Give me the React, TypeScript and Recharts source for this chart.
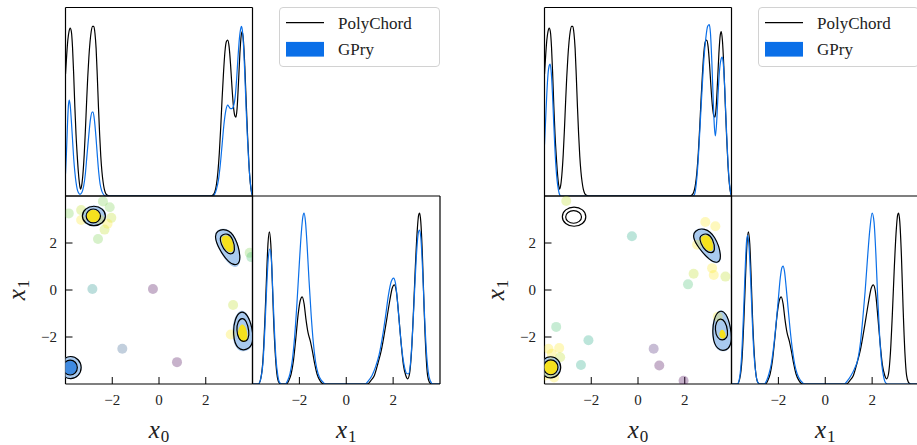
import React from 'react'
import { LineChart, Line, ScatterChart, Scatter, XAxis, YAxis, Legend } from 'recharts'

type Pt = [number, number]
type Sample = [number, number, number]

const TICKS = [-2, 0, 2]
const SERIES = ['PolyChord', 'GPry']

// 1D marginal of x0, PolyChord reference (same run in both corner plots)
const POLY_X0: Pt[] = [
  [-4.0, 0.71], [-3.95, 0.82], [-3.9, 0.91], [-3.85, 0.96], [-3.8, 0.98], [-3.75, 0.96], [-3.7, 0.87],
  [-3.65, 0.71], [-3.6, 0.52], [-3.55, 0.36], [-3.5, 0.24], [-3.45, 0.14], [-3.4, 0.07], [-3.36, 0.04],
  [-3.31, 0.06], [-3.26, 0.12], [-3.2, 0.24], [-3.15, 0.38], [-3.1, 0.54], [-3.05, 0.69], [-3.0, 0.81],
  [-2.95, 0.9], [-2.9, 0.96], [-2.84, 0.99], [-2.79, 0.99], [-2.74, 0.95], [-2.69, 0.86], [-2.64, 0.7],
  [-2.59, 0.52], [-2.54, 0.36], [-2.49, 0.23], [-2.44, 0.14], [-2.39, 0.08], [-2.34, 0.04], [-2.28, 0.015],
  [-2.2, 0.004], [-2.1, 0], [2.2, 0], [2.3, 0.005], [2.38, 0.02], [2.45, 0.06], [2.52, 0.14], [2.58, 0.25],
  [2.64, 0.4], [2.7, 0.57], [2.76, 0.72], [2.82, 0.84], [2.88, 0.9], [2.94, 0.91], [3.0, 0.87], [3.06, 0.77],
  [3.12, 0.64], [3.18, 0.53], [3.24, 0.47], [3.29, 0.46], [3.34, 0.51], [3.4, 0.66], [3.46, 0.83],
  [3.52, 0.94], [3.56, 0.96], [3.61, 0.91], [3.67, 0.76], [3.73, 0.55], [3.79, 0.35], [3.85, 0.18],
  [3.91, 0.07], [3.96, 0.02], [4.0, 0.005],
]

// 1D marginal of x0, GPry (left run)
const GPRY_X0_LEFT: Pt[] = [
  [-4.0, 0.13], [-3.96, 0.25], [-3.92, 0.4], [-3.88, 0.52], [-3.84, 0.56], [-3.8, 0.53], [-3.75, 0.44],
  [-3.7, 0.33], [-3.65, 0.22], [-3.6, 0.14], [-3.55, 0.08], [-3.5, 0.04], [-3.45, 0.02], [-3.38, 0.01],
  [-3.3, 0.02], [-3.22, 0.06], [-3.15, 0.13], [-3.08, 0.24], [-3.0, 0.36], [-2.93, 0.45], [-2.86, 0.49],
  [-2.82, 0.49], [-2.76, 0.44], [-2.7, 0.35], [-2.64, 0.24], [-2.58, 0.14], [-2.52, 0.07], [-2.45, 0.03],
  [-2.38, 0.01], [-2.3, 0], [2.3, 0], [2.38, 0.01], [2.46, 0.04], [2.55, 0.1], [2.62, 0.18], [2.7, 0.3],
  [2.78, 0.42], [2.86, 0.5], [2.94, 0.53], [3.0, 0.52], [3.06, 0.51], [3.12, 0.51], [3.2, 0.53],
  [3.26, 0.58], [3.32, 0.68], [3.38, 0.81], [3.44, 0.92], [3.5, 0.98], [3.53, 0.99], [3.58, 0.95],
  [3.63, 0.84], [3.68, 0.68], [3.73, 0.5], [3.78, 0.35], [3.83, 0.22], [3.88, 0.12], [3.93, 0.05],
  [3.98, 0.01], [4.0, 0],
]

// 1D marginal of x0, GPry (right run)
const GPRY_X0_RIGHT: Pt[] = [
  [-4.0, 0.3], [-3.95, 0.45], [-3.9, 0.6], [-3.85, 0.71], [-3.8, 0.76], [-3.76, 0.77], [-3.71, 0.72],
  [-3.66, 0.6], [-3.61, 0.44], [-3.56, 0.29], [-3.51, 0.17], [-3.46, 0.09], [-3.41, 0.04], [-3.36, 0.01],
  [-3.3, 0], [2.35, 0], [2.42, 0.01], [2.5, 0.08], [2.58, 0.22], [2.66, 0.42], [2.74, 0.62], [2.82, 0.8],
  [2.9, 0.92], [2.98, 0.99], [3.05, 1.0], [3.1, 0.95], [3.16, 0.78], [3.22, 0.55], [3.27, 0.4],
  [3.31, 0.35], [3.36, 0.42], [3.42, 0.58], [3.48, 0.72], [3.54, 0.79], [3.6, 0.81], [3.65, 0.77],
  [3.71, 0.63], [3.77, 0.43], [3.83, 0.25], [3.89, 0.11], [3.95, 0.03], [4.0, 0],
]

// 1D marginal of x1, PolyChord reference
const POLY_X1: Pt[] = [
  [-4.0, 0], [-3.75, 0], [-3.65, 0.03], [-3.55, 0.15], [-3.47, 0.38], [-3.4, 0.63], [-3.34, 0.82],
  [-3.28, 0.89], [-3.22, 0.82], [-3.16, 0.62], [-3.1, 0.38], [-3.03, 0.18], [-2.96, 0.06], [-2.88, 0.01],
  [-2.8, 0], [-2.55, 0], [-2.45, 0.02], [-2.35, 0.06], [-2.25, 0.14], [-2.15, 0.27], [-2.05, 0.41],
  [-1.96, 0.49], [-1.88, 0.51], [-1.8, 0.47], [-1.72, 0.38], [-1.63, 0.3], [-1.53, 0.25], [-1.44, 0.19],
  [-1.35, 0.12], [-1.25, 0.06], [-1.12, 0.02], [-0.95, 0], [0.9, 0], [1.05, 0.02], [1.2, 0.05],
  [1.35, 0.12], [1.5, 0.2], [1.62, 0.29], [1.74, 0.39], [1.86, 0.49], [1.96, 0.56], [2.05, 0.58],
  [2.14, 0.54], [2.24, 0.4], [2.34, 0.24], [2.44, 0.11], [2.54, 0.05], [2.62, 0.03], [2.7, 0.06],
  [2.78, 0.18], [2.86, 0.4], [2.94, 0.66], [3.02, 0.88], [3.09, 0.99], [3.13, 1.0], [3.18, 0.95],
  [3.25, 0.75], [3.32, 0.45], [3.4, 0.18], [3.47, 0.05], [3.55, 0.01], [3.65, 0], [4.0, 0],
]

// 1D marginal of x1, GPry (left run)
const GPRY_X1_LEFT: Pt[] = [
  [-4.0, 0], [-3.75, 0], [-3.65, 0.03], [-3.55, 0.13], [-3.47, 0.33], [-3.4, 0.55], [-3.33, 0.73],
  [-3.26, 0.79], [-3.2, 0.74], [-3.14, 0.56], [-3.07, 0.33], [-3.0, 0.15], [-2.92, 0.05], [-2.85, 0.01],
  [-2.75, 0], [-2.6, 0], [-2.5, 0.02], [-2.4, 0.06], [-2.3, 0.14], [-2.2, 0.28], [-2.1, 0.48],
  [-2.0, 0.71], [-1.92, 0.88], [-1.85, 0.98], [-1.8, 1.0], [-1.74, 0.95], [-1.67, 0.81], [-1.59, 0.61],
  [-1.5, 0.41], [-1.41, 0.25], [-1.31, 0.13], [-1.2, 0.06], [-1.05, 0.02], [-0.85, 0], [0.8, 0],
  [0.95, 0.02], [1.1, 0.05], [1.25, 0.1], [1.4, 0.17], [1.55, 0.28], [1.68, 0.4], [1.8, 0.52],
  [1.92, 0.6], [2.02, 0.62], [2.1, 0.59], [2.2, 0.46], [2.3, 0.3], [2.4, 0.17], [2.5, 0.09], [2.6, 0.06],
  [2.66, 0.06], [2.74, 0.12], [2.82, 0.28], [2.9, 0.5], [2.98, 0.72], [3.06, 0.87], [3.12, 0.9],
  [3.18, 0.86], [3.26, 0.66], [3.34, 0.4], [3.42, 0.19], [3.5, 0.07], [3.58, 0.02], [3.7, 0], [4.0, 0],
]

// 1D marginal of x1, GPry (right run)
const GPRY_X1_RIGHT: Pt[] = [
  [-4.0, 0], [-3.75, 0], [-3.65, 0.04], [-3.57, 0.16], [-3.49, 0.4], [-3.42, 0.66], [-3.36, 0.83],
  [-3.31, 0.87], [-3.25, 0.8], [-3.18, 0.6], [-3.11, 0.36], [-3.04, 0.17], [-2.96, 0.06], [-2.88, 0.01],
  [-2.8, 0], [-2.6, 0], [-2.5, 0.02], [-2.4, 0.06], [-2.3, 0.12], [-2.2, 0.22], [-2.1, 0.35],
  [-2.0, 0.5], [-1.92, 0.62], [-1.85, 0.68], [-1.8, 0.69], [-1.74, 0.66], [-1.67, 0.57], [-1.59, 0.45],
  [-1.5, 0.32], [-1.41, 0.21], [-1.31, 0.12], [-1.2, 0.06], [-1.05, 0.02], [-0.85, 0], [0.8, 0],
  [0.95, 0.02], [1.1, 0.05], [1.25, 0.09], [1.4, 0.15], [1.5, 0.24], [1.6, 0.38], [1.7, 0.54],
  [1.8, 0.73], [1.9, 0.9], [2.0, 1.0], [2.08, 0.95], [2.16, 0.76], [2.24, 0.5], [2.32, 0.28],
  [2.4, 0.13], [2.48, 0.05], [2.56, 0.01], [2.65, 0], [4.0, 0],
]

// GPry evaluation points: [x0, x1, rank of the log-posterior 0..1]
const SAMPLES_LEFT: Sample[] = [
  [-3.86, 3.26, 0.8], [-3.33, 3.4, 0.9], [-3.33, 2.98, 1], [-2.54, 3.0, 1], [-2.33, 2.57, 0.9],
  [-2.61, 2.17, 0.8], [-2.04, 3.07, 0.9], [-2.11, 3.52, 0.8], [-2.4, 3.77, 0.8], [-2.2, 2.82, 1],
  [-2.85, 0.04, 0.5], [-0.26, 0.04, 0], [-1.57, -2.5, 0.3], [0.77, -3.07, 0], [3.17, -0.64, 0.9],
  [3.07, -1.89, 1], [3.88, 1.58, 0.8], [3.95, 1.4, 0.7],
]

const SAMPLES_RIGHT: Sample[] = [
  [-3.07, 3.79, 0.9], [-0.26, 2.29, 0.6], [2.88, 2.89, 1], [3.31, 2.71, 1], [2.38, 0.69, 0.9],
  [2.14, 0.24, 0.7], [3.17, 0.93, 1], [3.24, 0.64, 1], [3.74, 0.57, 0.9], [-3.5, -1.57, 0.7],
  [-2.12, -2.14, 0.6], [0.67, -2.5, 0.1], [0.91, -3.21, 0], [1.95, -3.86, 0], [-2.44, -3.19, 0.6],
  [-3.83, -2.5, 1], [-3.37, -2.47, 1], [-3.69, -2.71, 1], [-3.33, -2.86, 0.9], [-3.59, -3.72, 1],
  [-3.76, -3.14, 1], [-3.97, -3.64, 1], [3.41, -1.14, 1], [2.53, 1.93, 1],
]

// contour outlines [x0, x1]; left corner plot
const LEFT_FILL_95: Pt[][] = [
  [[-2.2, 3.15], [-2.37, 3.5], [-2.785, 3.64], [-3.2, 3.5], [-3.37, 3.15], [-3.2, 2.8], [-2.785, 2.66], [-2.37, 2.8]],
  [[2.45, 2.56], [2.89, 2.66], [3.3, 2.3], [3.55, 1.35], [3.38, 0.9], [2.98, 1.05], [2.5, 1.78], [2.36, 2.29]],
  [[3.5, -0.8], [3.8, -0.99], [4.02, -1.56], [4.08, -2.3], [3.79, -2.64], [3.3, -2.6], [3.1, -1.94], [3.2, -1.15]],
  [[-3.26, -3.3], [-3.41, -2.91], [-3.78, -2.75], [-4.15, -2.91], [-4.3, -3.3], [-4.15, -3.69], [-3.78, -3.85], [-3.41, -3.69]],
]
const LEFT_FILL_68: Pt[][] = [
  [[-3.47, -3.3], [-3.57, -3.06], [-3.8, -2.96], [-4.03, -3.06], [-4.13, -3.3], [-4.03, -3.54], [-3.8, -3.64], [-3.57, -3.54]],
]
const LEFT_CORE: Pt[][] = [
  [[-2.5, 3.15], [-2.59, 3.36], [-2.81, 3.45], [-3.03, 3.36], [-3.12, 3.15], [-3.03, 2.94], [-2.81, 2.85], [-2.59, 2.94]],
  [[2.71, 2.29], [2.95, 2.35], [3.15, 2.15], [3.23, 1.7], [3.09, 1.57], [2.88, 1.66], [2.7, 1.95], [2.66, 2.2]],
  [[3.55, -1.42], [3.7, -1.53], [3.8, -1.9], [3.77, -2.15], [3.6, -2.24], [3.42, -2.13], [3.36, -1.85], [3.42, -1.58]],
]
const LEFT_LINE_95: Pt[][] = [
  [[-2.24, 3.15], [-2.4, 3.47], [-2.785, 3.61], [-3.17, 3.47], [-3.33, 3.15], [-3.17, 2.83], [-2.785, 2.69], [-2.4, 2.83]],
  [[2.47, 2.53], [2.885, 2.62], [3.28, 2.28], [3.52, 1.36], [3.37, 1.02], [2.99, 1.12], [2.53, 1.8], [2.38, 2.27]],
  [[3.5, -0.87], [3.78, -1.02], [3.99, -1.58], [4.05, -2.27], [3.77, -2.57], [3.34, -2.54], [3.15, -1.93], [3.24, -1.2]],
  [[-3.28, -3.3], [-3.43, -2.93], [-3.78, -2.78], [-4.13, -2.93], [-4.28, -3.3], [-4.13, -3.67], [-3.78, -3.82], [-3.43, -3.67]],
]
const LEFT_LINE_68: Pt[][] = [
  [[-2.47, 3.15], [-2.57, 3.38], [-2.81, 3.48], [-3.05, 3.38], [-3.15, 3.15], [-3.05, 2.92], [-2.81, 2.82], [-2.57, 2.92]],
  [[2.69, 2.35], [2.953, 2.42], [3.17, 2.18], [3.27, 1.66], [3.1, 1.5], [2.86, 1.6], [2.65, 1.95], [2.6, 2.23]],
  [[3.55, -1.17], [3.74, -1.29], [3.86, -1.76], [3.84, -2.1], [3.62, -2.23], [3.4, -2.1], [3.31, -1.7], [3.37, -1.33]],
  [[-3.46, -3.3], [-3.56, -3.05], [-3.8, -2.95], [-4.04, -3.05], [-4.14, -3.3], [-4.04, -3.55], [-3.8, -3.65], [-3.56, -3.55]],
]

// contour outlines [x0, x1]; right corner plot
const RIGHT_FILL_95: Pt[][] = [
  [[2.39, 2.56], [2.84, 2.69], [3.33, 2.33], [3.62, 1.42], [3.47, 1.08], [3.07, 1.2], [2.54, 1.8], [2.31, 2.26]],
  [[3.48, -0.78], [3.79, -0.94], [4.0, -1.58], [4.05, -2.3], [3.82, -2.65], [3.34, -2.6], [3.13, -2.0], [3.2, -1.17]],
  [[-3.24, -3.29], [-3.39, -2.92], [-3.74, -2.77], [-4.09, -2.92], [-4.24, -3.29], [-4.09, -3.66], [-3.74, -3.81], [-3.39, -3.66]],
]
const RIGHT_FILL_68: Pt[][] = []
const RIGHT_CORE: Pt[][] = [
  [[2.74, 2.3], [2.97, 2.36], [3.17, 2.16], [3.25, 1.72], [3.11, 1.63], [2.9, 1.71], [2.72, 2.0], [2.68, 2.2]],
  [[3.55, -1.66], [3.7, -1.72], [3.78, -1.96], [3.67, -2.1], [3.51, -2.05], [3.46, -1.85]],
  [[-3.41, -3.29], [-3.5, -3.06], [-3.73, -2.96], [-3.96, -3.06], [-4.05, -3.29], [-3.96, -3.52], [-3.73, -3.62], [-3.5, -3.52]],
]
const RIGHT_LINE_95: Pt[][] = [
  [[-2.18, 3.12], [-2.34, 3.44], [-2.735, 3.57], [-3.13, 3.44], [-3.29, 3.12], [-3.13, 2.8], [-2.735, 2.67], [-2.34, 2.8]],
  [[2.41, 2.53], [2.84, 2.66], [3.31, 2.31], [3.59, 1.43], [3.44, 1.12], [3.08, 1.24], [2.57, 1.81], [2.34, 2.24]],
  [[3.49, -0.83], [3.78, -0.98], [3.97, -1.58], [4.02, -2.27], [3.81, -2.6], [3.36, -2.55], [3.17, -1.98], [3.23, -1.2]],
  [[-3.26, -3.29], [-3.4, -2.94], [-3.74, -2.79], [-4.08, -2.94], [-4.22, -3.29], [-4.08, -3.64], [-3.74, -3.79], [-3.4, -3.64]],
]
const RIGHT_LINE_68: Pt[][] = [
  [[-2.38, 3.11], [-2.49, 3.32], [-2.755, 3.41], [-3.02, 3.32], [-3.13, 3.11], [-3.02, 2.9], [-2.755, 2.81], [-2.49, 2.9]],
  [[2.72, 2.35], [2.974, 2.42], [3.21, 2.18], [3.31, 1.67], [3.15, 1.55], [2.89, 1.65], [2.67, 2.0], [2.63, 2.24]],
  [[3.51, -1.2], [3.73, -1.31], [3.85, -1.75], [3.82, -2.05], [3.6, -2.16], [3.38, -2.04], [3.29, -1.68], [3.34, -1.35]],
  [[-3.39, -3.29], [-3.49, -3.04], [-3.73, -2.94], [-3.97, -3.04], [-4.07, -3.29], [-3.97, -3.54], [-3.73, -3.64], [-3.49, -3.54]],
]

const BLUE = '#0a6fe8'
const FILL95 = '#a9caef'
const FILL68 = '#3f8ae0'
const CORE = '#f5e11e'
const VIRIDIS = ['#440154', '#482475', '#414487', '#355f8d', '#2a788e', '#21918c', '#22a884', '#44bf70', '#7ad151', '#bddf26', '#fde725']
const FONT = '"Liberation Serif", "DejaVu Serif", serif'

const frame = { stroke: '#000', strokeWidth: 1.2 }
const tickLine = { stroke: '#000', strokeWidth: 1 }
const tickStyle = { fontFamily: FONT, fontSize: 15, fill: '#222' }
const fmt = (v: number) => (v < 0 ? `\u2212${-v}` : `${v}`)
const toLine = (pts: Pt[]) => pts.map(([x, d]) => ({ x, d }))
const toXY = (pts: Pt[]) => pts.map(([x, y]) => ({ x, y }))
const noMark = () => <g />
const dot = (p: any) => (
  <circle cx={p.cx} cy={p.cy} r={5} fill={VIRIDIS[Math.round(p.payload.v * 10)]} fillOpacity={0.3} />
)

function AxisTitle({ viewBox, sub, vertical }: any) {
  if (!viewBox) return null
  const { x, y, width, height } = viewBox
  const cx = vertical ? x + 25 : x + width / 2
  const cy = vertical ? y + height / 2 : y + 54
  return (
    <text
      x={cx}
      y={cy}
      textAnchor="middle"
      fontFamily={FONT}
      fontSize={25}
      fill="#222"
      transform={vertical ? `rotate(-90 ${cx} ${cy})` : undefined}
    >
      <tspan fontStyle="italic">x</tspan>
      <tspan fontSize={17} dx={1} dy={4}>{sub}</tspan>
    </text>
  )
}

function LegendBox({ payload }: any) {
  const items = [...(payload || [])].sort((a: any, b: any) => SERIES.indexOf(a.value) - SERIES.indexOf(b.value))
  return (
    <svg width={161} height={60} style={{ display: 'block' }}>
      <rect x={0.5} y={0.5} width={160} height={59} rx={3.5} fill="#fff" fillOpacity={0.8} stroke="#d2d2d2" />
      {items.map((entry: any, i: number) => {
        const cy = 15.7 + i * 26.5
        return (
          <g key={entry.value}>
            {entry.type === 'rect' ? (
              <rect x={7} y={cy - 7.3} width={38} height={14.7} fill={entry.color} />
            ) : (
              <line x1={7} x2={45} y1={cy} y2={cy} stroke={entry.color} strokeWidth={1.2} />
            )}
            <text x={59} y={cy + 6} fontFamily={FONT} fontSize={17} fill="#222">
              {entry.value}
            </text>
          </g>
        )
      })}
    </svg>
  )
}

const region = (key: string, pts: Pt[], fill: string, stroke: string) => (
  <Scatter
    key={key}
    data={toXY(pts)}
    shape={noMark}
    line={{ fill, stroke, strokeWidth: 1.2 }}
    lineJointType="basisClosed"
    legendType="none"
    isAnimationActive={false}
  />
)

interface CornerProps {
  left: number
  gpryX0: Pt[]
  gpryX1: Pt[]
  samples: Sample[]
  fill95: Pt[][]
  fill68: Pt[][]
  cores: Pt[][]
  line95: Pt[][]
  line68: Pt[][]
}

function Corner({ left, gpryX0, gpryX1, samples, fill95, fill68, cores, line95, line68 }: CornerProps) {
  return (
    <div style={{ position: 'absolute', left, top: 0, width: 445, height: 445 }}>
      {/* x0 marginal */}
      <div style={{ position: 'absolute', left: 0, top: 0 }}>
        <LineChart width={445} height={200} margin={{ top: 6.5, right: 191.5, bottom: 0, left: 0 }}>
          <XAxis type="number" dataKey="x" domain={[-4, 4]} ticks={TICKS} interval={0} allowDataOverflow
            height={4} axisLine={frame} tickLine={tickLine} tickSize={-7} tick={false} />
          <XAxis xAxisId="top" orientation="top" type="number" domain={[-4, 4]} ticks={TICKS} allowDataOverflow
            height={1} axisLine={frame} tickLine={false} tick={false} />
          <YAxis type="number" domain={[0, 1.1]} allowDataOverflow width={65.5}
            axisLine={frame} tickLine={false} tick={false} />
          <YAxis yAxisId="right" orientation="right" type="number" domain={[0, 1.1]} ticks={[0, 1]} width={1}
            axisLine={frame} tickLine={false} tick={false} />
          <Line data={toLine(POLY_X0)} dataKey="d" name="PolyChord" type="monotone" stroke="#000"
            strokeWidth={1.2} dot={false} legendType="line" isAnimationActive={false} />
          <Line data={toLine(gpryX0)} dataKey="d" name="GPry" type="monotone" stroke={BLUE}
            strokeWidth={1.2} dot={false} legendType="rect" isAnimationActive={false} />
          <Legend content={<LegendBox />} layout="vertical" align="center" verticalAlign="middle"
            wrapperStyle={{ left: 279, top: 7, width: 161, height: 60 }} />
        </LineChart>
      </div>

      {/* joint x0-x1 */}
      <div style={{ position: 'absolute', left: 0, top: 190 }}>
        <ScatterChart width={260} height={255} margin={{ top: 5, right: 6.5, bottom: 0, left: 0 }}>
          <XAxis type="number" dataKey="x" domain={[-4, 4]} ticks={TICKS} interval={0} allowDataOverflow
            height={61} axisLine={frame} tickLine={tickLine} tickSize={-7} tickMargin={17}
            tick={tickStyle} tickFormatter={fmt} label={<AxisTitle sub="0" />} />
          <XAxis xAxisId="top" orientation="top" type="number" domain={[-4, 4]} ticks={TICKS} interval={0}
            allowDataOverflow height={1} axisLine={frame} tickLine={tickLine} tickSize={-7} tick={false} />
          <YAxis type="number" dataKey="y" domain={[-4, 4]} ticks={TICKS} interval={0} allowDataOverflow
            width={65.5} axisLine={frame} tickLine={tickLine} tickSize={-7} tickMargin={15.5}
            tick={tickStyle} tickFormatter={fmt} label={<AxisTitle sub="1" vertical />} />
          <YAxis yAxisId="right" orientation="right" type="number" domain={[-4, 4]} ticks={TICKS} interval={0}
            allowDataOverflow width={1} axisLine={frame} tickLine={tickLine} tickSize={-7} tick={false} />
          {fill95.map((p, i) => region(`f95-${i}`, p, FILL95, 'none'))}
          {fill68.map((p, i) => region(`f68-${i}`, p, FILL68, 'none'))}
          <Scatter data={samples.map(([x, y, v]) => ({ x, y, v }))} shape={dot} legendType="none"
            isAnimationActive={false} />
          {cores.map((p, i) => region(`core-${i}`, p, CORE, 'none'))}
          {line95.map((p, i) => region(`l95-${i}`, p, 'none', '#000'))}
          {line68.map((p, i) => region(`l68-${i}`, p, 'none', '#000'))}
        </ScatterChart>
      </div>

      {/* x1 marginal */}
      <div style={{ position: 'absolute', left: 250, top: 190 }}>
        <LineChart width={195} height={255} margin={{ top: 5, right: 4, bottom: 0, left: 0 }}>
          <XAxis type="number" dataKey="x" domain={[-4, 4]} ticks={TICKS} interval={0} allowDataOverflow
            height={61} axisLine={frame} tickLine={tickLine} tickSize={-7} tickMargin={17}
            tick={tickStyle} tickFormatter={fmt} label={<AxisTitle sub="1" />} />
          <XAxis xAxisId="top" orientation="top" type="number" domain={[-4, 4]} ticks={TICKS} allowDataOverflow
            height={1} axisLine={frame} tickLine={false} tick={false} />
          <YAxis type="number" domain={[0, 1.1]} allowDataOverflow width={2.5}
            axisLine={frame} tickLine={false} tick={false} />
          <YAxis yAxisId="right" orientation="right" type="number" domain={[0, 1.1]} ticks={[0, 1]} width={1}
            axisLine={frame} tickLine={false} tick={false} />
          <Line data={toLine(POLY_X1)} dataKey="d" name="PolyChord" type="monotone" stroke="#000"
            strokeWidth={1.2} dot={false} isAnimationActive={false} />
          <Line data={toLine(gpryX1)} dataKey="d" name="GPry" type="monotone" stroke={BLUE}
            strokeWidth={1.2} dot={false} isAnimationActive={false} />
        </LineChart>
      </div>
    </div>
  )
}

export default function App() {
  return (
    <div style={{ position: 'absolute', left: 0, top: 0, width: 917, height: 445, overflow: 'hidden', background: '#fff' }}>
      <Corner left={0} gpryX0={GPRY_X0_LEFT} gpryX1={GPRY_X1_LEFT} samples={SAMPLES_LEFT}
        fill95={LEFT_FILL_95} fill68={LEFT_FILL_68} cores={LEFT_CORE} line95={LEFT_LINE_95} line68={LEFT_LINE_68} />
      <Corner left={478.5} gpryX0={GPRY_X0_RIGHT} gpryX1={GPRY_X1_RIGHT} samples={SAMPLES_RIGHT}
        fill95={RIGHT_FILL_95} fill68={RIGHT_FILL_68} cores={RIGHT_CORE} line95={RIGHT_LINE_95} line68={RIGHT_LINE_68} />
    </div>
  )
}
